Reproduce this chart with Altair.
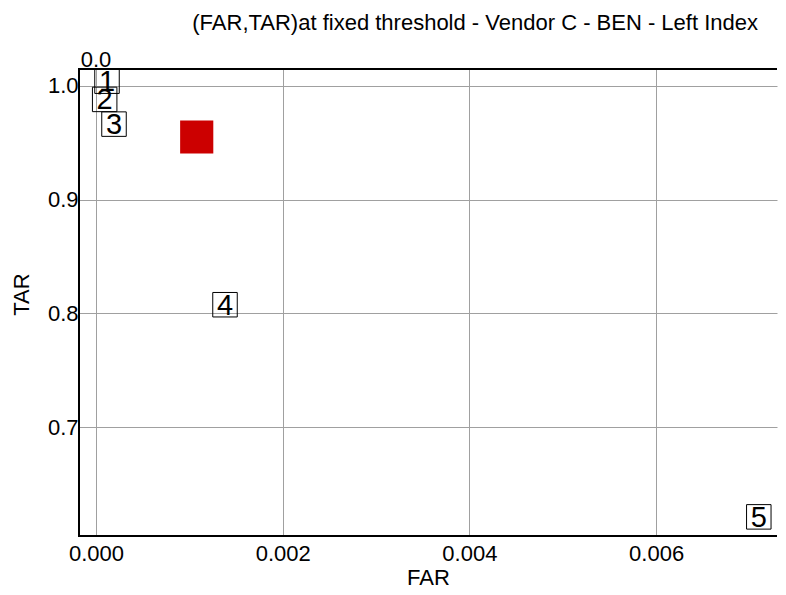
import altair as alt
import pandas as pd

labels = ["1", "2", "3", "4", "5"]
far = [0.000118, 0.000093, 0.000193, 0.001382, 0.0071]
tar = [1.004, 0.988, 0.9663, 0.8077, 0.6214]

red_far = [0.001079]
red_tar = [0.955]

df = pd.DataFrame({"label": labels, "FAR": far, "TAR": tar})
red = pd.DataFrame({"FAR": red_far, "TAR": red_tar})

W, H = 698, 467
xdom = [-0.000182, 0.007295]
ydom = [0.6046, 1.0147]
FONT = "Liberation Sans"

x = alt.X("FAR:Q", scale=alt.Scale(domain=xdom, nice=False, zero=False),
          axis=alt.Axis(values=[0, 0.002, 0.004, 0.006], format=".3f", title="FAR",
                        labelFontSize=22, titleFontSize=22, titleFontWeight="normal",
                        labelFont=FONT, titleFont=FONT, labelColor="black", titleColor="black",
                        tickSize=0, labelPadding=7, titlePadding=3, domain=False,
                        gridColor="#a0a0a0", gridWidth=1))
y = alt.Y("TAR:Q", scale=alt.Scale(domain=ydom, nice=False, zero=False),
          axis=alt.Axis(values=[0.7, 0.8, 0.9, 1.0], format=".1f", title="TAR",
                        labelFontSize=22, titleFontSize=22, titleFontWeight="normal",
                        labelFont=FONT, titleFont=FONT, labelColor="black", titleColor="black",
                        tickSize=0, labelPadding=1, titlePadding=14, titleY=225, domain=False,
                        gridColor="#a0a0a0", gridWidth=1))

redmark = alt.Chart(red).mark_point(shape="square", filled=True, size=1100,
                                    color="#cc0000", opacity=1).encode(x=x, y=y)
boxes = alt.Chart(df).mark_point(shape="square", filled=False, size=600,
                                 color="black", strokeWidth=1, opacity=1).encode(x=x, y=y)
texts = alt.Chart(df).mark_text(fontSize=29, font=FONT, color="black", dy=1).encode(
    x=x, y=y, text="label:N")
top = alt.Chart(pd.DataFrame({"FAR": [0.0], "t": ["0.0"]})).mark_text(
    fontSize=22, font=FONT, color="black", baseline="alphabetic").encode(
    x=x, y=alt.value(-2), text="t:N")

border_top = alt.Chart().mark_rule(color="black", strokeWidth=2).encode(
    x=alt.value(0), x2=alt.value(W), y=alt.value(0))
border_left = alt.Chart().mark_rule(color="black", strokeWidth=2).encode(
    x=alt.value(0), y=alt.value(-1), y2=alt.value(H + 1))
border_bottom = alt.Chart().mark_rule(color="black", strokeWidth=2).encode(
    x=alt.value(0), x2=alt.value(W), y=alt.value(H))

chart = alt.layer(redmark, boxes, texts, top, border_top, border_left, border_bottom).properties(
    width=W, height=H,
    title=alt.TitleParams("(FAR,TAR)at fixed threshold - Vendor C - BEN - Left Index",
                          fontSize=22, font=FONT, fontWeight="normal", color="black",
                          anchor="end", offset=14, dx=-20),
    padding={"left": 71, "top": 61, "right": 1, "bottom": 51},
    autosize=alt.AutoSizeParams(type="none"),
).configure_view(stroke=None)

chart.save("out.html", embed_options={"renderer": "svg", "actions": False})
